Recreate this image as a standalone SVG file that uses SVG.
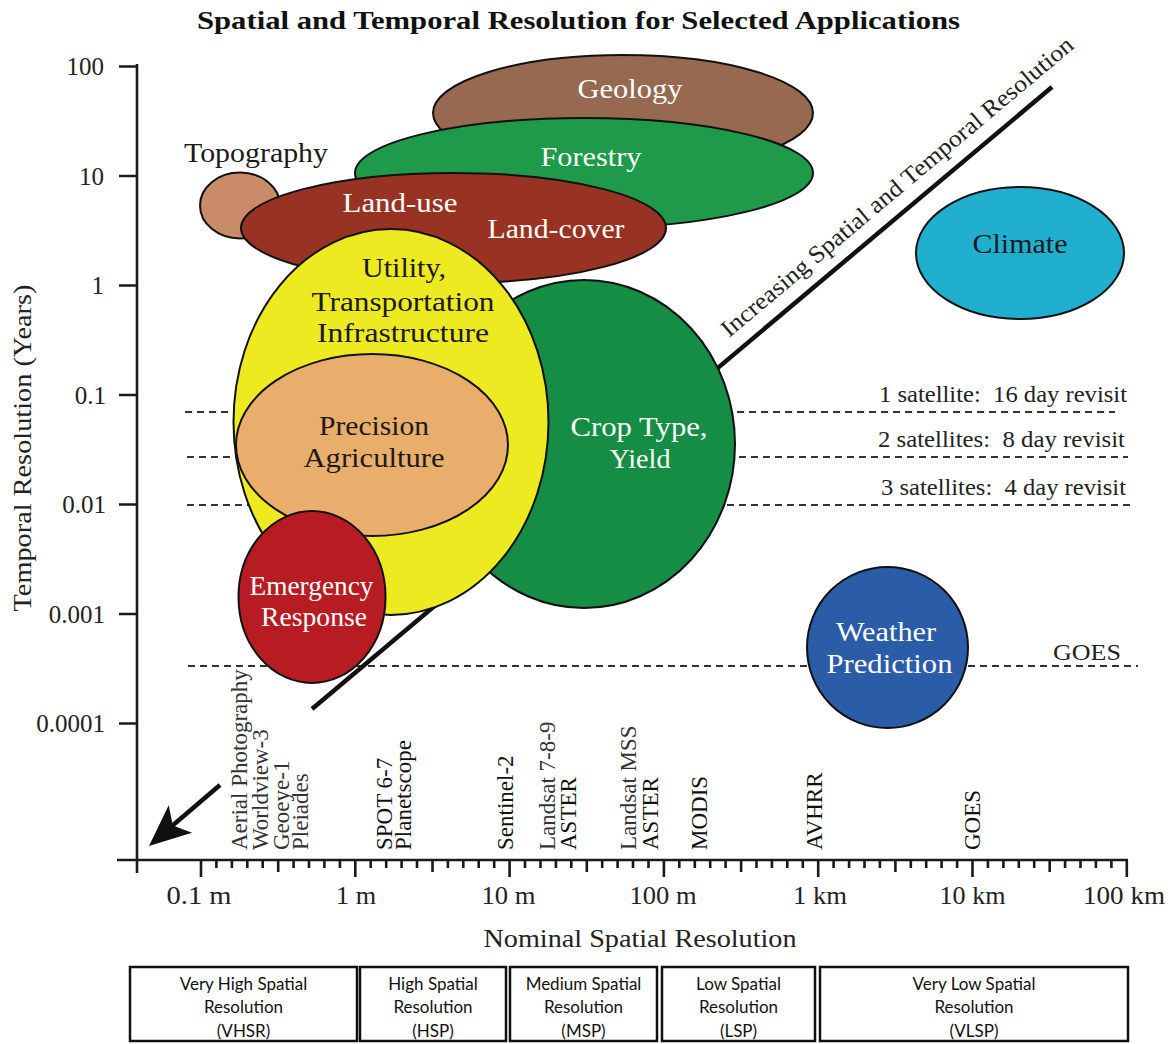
<svg xmlns="http://www.w3.org/2000/svg" width="1171" height="1044" viewBox="0 0 1171 1044">
<style>
text{font-family:"Liberation Serif","Times New Roman",serif;}
.title{font-size:26px;font-weight:bold;fill:#111;}
.ax{font-size:25px;fill:#222;}
.axt{font-size:26px;fill:#222;}
.lbl{font-size:28px;}
.w{fill:#fff;}
.d{fill:#1a1a1a;}
.sens{font-size:23px;fill:#333;}
.sensd{font-size:23px;fill:#111;}
.sat{font-size:24px;fill:#222;white-space:pre;}
.ell{stroke:#111;stroke-width:2;}
.dash{stroke:#333;stroke-width:2;stroke-dasharray:7 5;fill:none;}
.axis{stroke:#1a1a1a;stroke-width:2.6;fill:none;}
.box{fill:#fff;stroke:#111;stroke-width:2.5;}
.bt{font-family:"Lato","Open Sans",sans-serif;font-size:17px;fill:#111;text-anchor:middle;}
</style>

<text class="title" x="578.5" y="29" text-anchor="middle" textLength="763" lengthAdjust="spacingAndGlyphs">Spatial and Temporal Resolution for Selected Applications</text>

<!-- axes -->
<g id="axes">
  <path class="axis" d="M137 64V873M117 860H1128"/>
  <path class="axis" d="M119 66.5H137M119 176H137M119 285.5H137M119 395H137M119 504.5H137M119 614H137M119 723.5H137"/>
  <path class="axis" stroke-width="2.4" d="M201 860v17M355.3 860v17M509.6 860v17M663.9 860v17M818.2 860v17M972.5 860v17M1126.8 860v17"/>
  <path class="axis" stroke-width="2.4" d="M278.2 860v12M432.5 860v12M586.8 860v12M741.1 860v12M895.4 860v12M1049.7 860v12"/>
  <path class="axis" stroke-width="2.2" d="M216.4 860v8M231.9 860v8M247.3 860v8M262.7 860v8M293.6 860v8M309 860v8M324.4 860v8M339.9 860v8M370.7 860v8M386.2 860v8M401.6 860v8M417 860v8M447.9 860v8M463.3 860v8M478.7 860v8M494.2 860v8M525 860v8M540.5 860v8M555.9 860v8M571.3 860v8M602.2 860v8M617.6 860v8M633 860v8M648.5 860v8M679.3 860v8M694.8 860v8M710.2 860v8M725.6 860v8M756.5 860v8M771.9 860v8M787.3 860v8M802.8 860v8M833.6 860v8M849.1 860v8M864.5 860v8M879.9 860v8M910.8 860v8M926.2 860v8M941.6 860v8M957.1 860v8M987.9 860v8M1003.4 860v8M1018.8 860v8M1034.2 860v8M1065.1 860v8M1080.5 860v8M1095.9 860v8M1111.4 860v8"/>
  <g class="ax" text-anchor="end">
    <text x="104" y="75">100</text>
    <text x="104" y="184.5">10</text>
    <text x="104" y="294">1</text>
    <text x="106" y="403.5">0.1</text>
    <text x="106" y="513">0.01</text>
    <text x="105" y="622.5">0.001</text>
    <text x="105" y="732">0.0001</text>
  </g>
  <g class="ax" text-anchor="middle">
    <text x="199" y="904" textLength="65" lengthAdjust="spacingAndGlyphs">0.1 m</text>
    <text x="356" y="904" textLength="40" lengthAdjust="spacingAndGlyphs">1 m</text>
    <text x="508.5" y="904" textLength="54" lengthAdjust="spacingAndGlyphs">10 m</text>
    <text x="663" y="904" textLength="67" lengthAdjust="spacingAndGlyphs">100 m</text>
    <text x="820" y="904" textLength="54" lengthAdjust="spacingAndGlyphs">1 km</text>
    <text x="972.5" y="904" textLength="66" lengthAdjust="spacingAndGlyphs">10 km</text>
    <text x="1124" y="904" textLength="82" lengthAdjust="spacingAndGlyphs">100 km</text>
  </g>
  <text class="axt" x="640" y="947" text-anchor="middle" textLength="313" lengthAdjust="spacingAndGlyphs">Nominal Spatial Resolution</text>
  <text class="axt" transform="translate(31 448) rotate(-90)" x="0" y="0" text-anchor="middle" textLength="327" lengthAdjust="spacingAndGlyphs">Temporal Resolution (Years)</text>
</g>

<!-- revisit lines -->
<g id="revisit-lines">
  <path class="dash" d="M185 412H1115M187 457H1128M187 505H1130M188 666H1138"/>
  <text class="sat" x="1127" y="402" text-anchor="end" textLength="248" lengthAdjust="spacingAndGlyphs">1 satellite:  16 day revisit</text>
  <text class="sat" x="1125" y="447" text-anchor="end" textLength="247" lengthAdjust="spacingAndGlyphs">2 satellites:  8 day revisit</text>
  <text class="sat" x="1126" y="495" text-anchor="end" textLength="245" lengthAdjust="spacingAndGlyphs">3 satellites:  4 day revisit</text>
  <text class="sat" x="1121" y="660" text-anchor="end" textLength="68" lengthAdjust="spacingAndGlyphs">GOES</text>
</g>

<!-- connectors: trend line and arrow -->
<g id="connectors">
  <line x1="312" y1="709" x2="1052" y2="87" stroke="#111" stroke-width="4.5"/>
  <text transform="translate(729 338) rotate(-40)" x="0" y="0" font-size="24" fill="#222" textLength="452" lengthAdjust="spacingAndGlyphs">Increasing Spatial and Temporal Resolution</text>
  <line x1="220" y1="785" x2="172" y2="826" stroke="#111" stroke-width="4.5"/>
  <polygon points="149,846 168.7,805.3 172.8,825.5 192,832.7" fill="#111"/>
</g>

<!-- nodes -->
<g id="geology">
  <ellipse class="ell" cx="623" cy="113" rx="190" ry="58" fill="#966950"/>
  <text class="lbl w" x="630" y="98" text-anchor="middle" textLength="105" lengthAdjust="spacingAndGlyphs">Geology</text>
</g>
<g id="forestry">
  <ellipse class="ell" cx="584" cy="173" rx="229" ry="55" fill="#1f9a4a"/>
  <text class="lbl w" x="591" y="166" text-anchor="middle" textLength="101" lengthAdjust="spacingAndGlyphs">Forestry</text>
</g>
<g id="topography">
  <ellipse class="ell" cx="240" cy="205.5" rx="40" ry="33" fill="#c98b68"/>
  <text class="lbl d" x="256" y="162" text-anchor="middle" textLength="144" lengthAdjust="spacingAndGlyphs">Topography</text>
</g>
<g id="land">
  <ellipse class="ell" cx="453.5" cy="228" rx="212.5" ry="55" fill="#983323"/>
  <text class="lbl w" x="400" y="212" text-anchor="middle" textLength="115" lengthAdjust="spacingAndGlyphs">Land-use</text>
  <text class="lbl w" x="556" y="238" text-anchor="middle" textLength="137" lengthAdjust="spacingAndGlyphs">Land-cover</text>
</g>
<g id="crop">
  <ellipse class="ell" cx="584" cy="444" rx="151" ry="164" fill="#168d45"/>
  <text class="lbl w" x="639" y="436" text-anchor="middle" textLength="137" lengthAdjust="spacingAndGlyphs">Crop Type,</text>
  <text class="lbl w" x="640" y="468" text-anchor="middle" textLength="61" lengthAdjust="spacingAndGlyphs">Yield</text>
</g>
<g id="utility">
  <ellipse class="ell" cx="391" cy="422" rx="157.5" ry="193" fill="#eeea22"/>
  <text class="lbl d" x="404" y="277" text-anchor="middle" textLength="84" lengthAdjust="spacingAndGlyphs">Utility,</text>
  <text class="lbl d" x="403" y="311" text-anchor="middle" textLength="183" lengthAdjust="spacingAndGlyphs">Transportation</text>
  <text class="lbl d" x="403" y="342" text-anchor="middle" textLength="172" lengthAdjust="spacingAndGlyphs">Infrastructure</text>
</g>
<g id="precision">
  <ellipse class="ell" cx="372" cy="445" rx="136" ry="91" fill="#e9ae6b"/>
  <text class="lbl d" x="374" y="435" text-anchor="middle" textLength="110" lengthAdjust="spacingAndGlyphs">Precision</text>
  <text class="lbl d" x="374" y="467" text-anchor="middle" textLength="141" lengthAdjust="spacingAndGlyphs">Agriculture</text>
</g>
<g id="emergency">
  <ellipse class="ell" cx="312" cy="597" rx="73.5" ry="86" fill="#b71c23"/>
  <text class="lbl w" x="311.5" y="595" text-anchor="middle" font-size="27" textLength="124" lengthAdjust="spacingAndGlyphs">Emergency</text>
  <text class="lbl w" x="314" y="626" text-anchor="middle" font-size="27" textLength="106" lengthAdjust="spacingAndGlyphs">Response</text>
</g>
<g id="climate">
  <ellipse class="ell" cx="1020" cy="253" rx="104" ry="66" fill="#21afd0"/>
  <text class="lbl d" x="1020" y="253" text-anchor="middle" textLength="95" lengthAdjust="spacingAndGlyphs">Climate</text>
</g>
<g id="weather">
  <ellipse class="ell" cx="887.5" cy="647.5" rx="80.5" ry="80.5" fill="#2a5ca8"/>
  <text class="lbl w" x="886" y="641" text-anchor="middle" textLength="100" lengthAdjust="spacingAndGlyphs">Weather</text>
  <text class="lbl w" x="889.5" y="673" text-anchor="middle" textLength="126" lengthAdjust="spacingAndGlyphs">Prediction</text>
</g>

<!-- sensor labels -->
<g id="sensors">
  <text class="sens" transform="translate(247 850) rotate(-90)">Aerial Photography</text>
  <text class="sens" transform="translate(268 850) rotate(-90)">Worldview-3</text>
  <text class="sens" transform="translate(289 850) rotate(-90)">Geoeye-1</text>
  <text class="sens" transform="translate(308 850) rotate(-90)">Pleiades</text>
  <text class="sensd" transform="translate(392 850) rotate(-90)">SPOT 6-7</text>
  <text class="sensd" transform="translate(411 850) rotate(-90)">Planetscope</text>
  <text class="sensd" transform="translate(513 850) rotate(-90)">Sentinel-2</text>
  <text class="sens" transform="translate(555 850) rotate(-90)">Landsat 7-8-9</text>
  <text class="sensd" transform="translate(576 850) rotate(-90)">ASTER</text>
  <text class="sens" transform="translate(636 850) rotate(-90)">Landsat MSS</text>
  <text class="sensd" transform="translate(658 850) rotate(-90)">ASTER</text>
  <text class="sensd" transform="translate(707 850) rotate(-90)">MODIS</text>
  <text class="sensd" transform="translate(822 850) rotate(-90)">AVHRR</text>
  <text class="sensd" transform="translate(980 850) rotate(-90)">GOES</text>
</g>

<!-- resolution classes -->
<g id="class-vhsr">
  <rect class="box" x="130" y="967" width="227" height="74"/>
  <text class="bt" x="243.5" y="990">Very High Spatial</text>
  <text class="bt" x="243.5" y="1013">Resolution</text>
  <text class="bt" x="243.5" y="1037">(VHSR)</text>
</g>
<g id="class-hsp">
  <rect class="box" x="360" y="967" width="146" height="74"/>
  <text class="bt" x="433" y="990">High Spatial</text>
  <text class="bt" x="433" y="1013">Resolution</text>
  <text class="bt" x="433" y="1037">(HSP)</text>
</g>
<g id="class-msp">
  <rect class="box" x="510" y="967" width="147" height="74"/>
  <text class="bt" x="583.5" y="990">Medium Spatial</text>
  <text class="bt" x="583.5" y="1013">Resolution</text>
  <text class="bt" x="583.5" y="1037">(MSP)</text>
</g>
<g id="class-lsp">
  <rect class="box" x="662" y="967" width="153" height="74"/>
  <text class="bt" x="738.5" y="990">Low Spatial</text>
  <text class="bt" x="738.5" y="1013">Resolution</text>
  <text class="bt" x="738.5" y="1037">(LSP)</text>
</g>
<g id="class-vlsp">
  <rect class="box" x="820" y="967" width="308" height="74"/>
  <text class="bt" x="974" y="990">Very Low Spatial</text>
  <text class="bt" x="974" y="1013">Resolution</text>
  <text class="bt" x="974" y="1037">(VLSP)</text>
</g>
</svg>
